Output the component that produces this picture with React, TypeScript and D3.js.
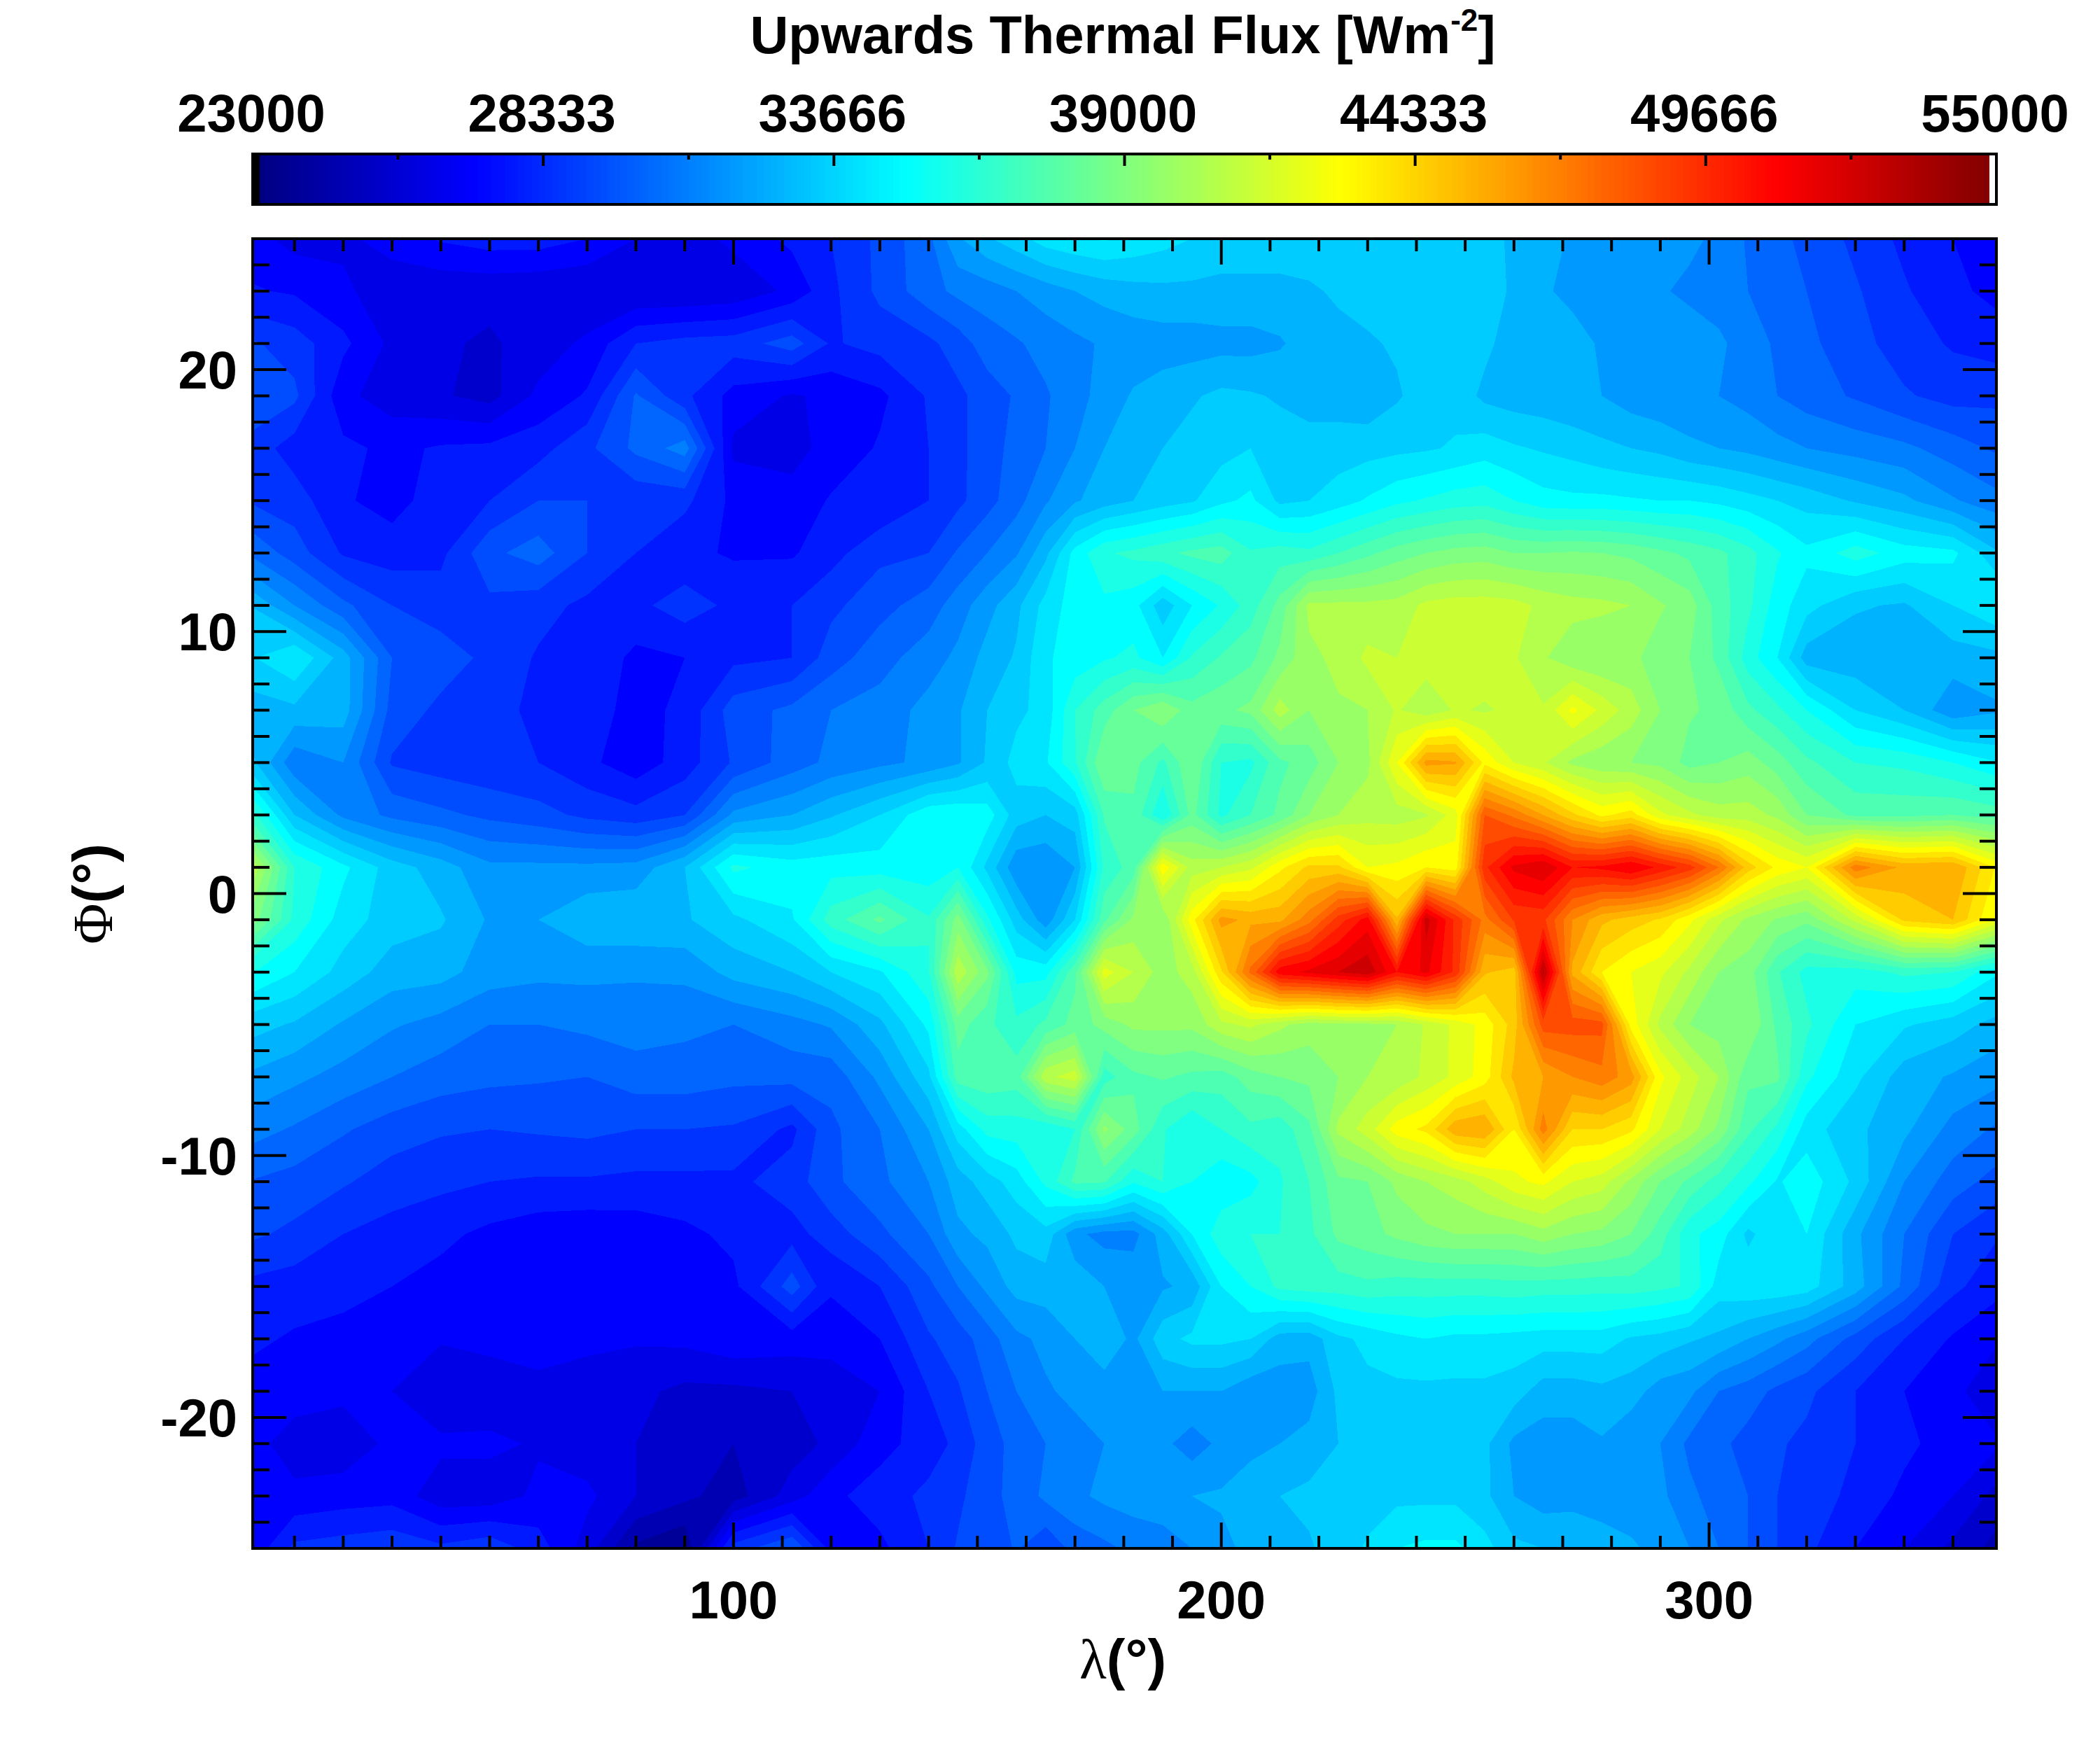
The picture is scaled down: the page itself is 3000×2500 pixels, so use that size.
import React from "react";
import * as d3 from "d3";

// longitude and latitude of the flux grid
const lons = [0,10,20,30,40,50,60,70,80,90,100,112,120,130,140,146,152,158,164,170,176,182,188,194,200,206,212,218,224,230,236,242,248,254,260,266,272,278,284,290,296,302,308,314,320,330,340,350,360];
const lats = [25,23,21,19,17,15,13,11,9,7,5,3,1,-1,-3,-5,-7,-9,-11,-13,-15,-17,-19,-21,-23,-25];

// flux in hundreds of W/m2, one row per latitude
const flux = [
  [274,267,268,274,279,282,282,278,270,266,272,280,286,296,308,325,333,339,346,349,351,348,345,342,338,338,338,338,338,338,338,338,337,336,333,329,325,323,322,322,320,316,309,304,300,292,284,278,272],
  [279,277,272,264,264,264,263,262,262,262,264,272,284,296,307,312,314,318,322,326,329,331,332,332,332,332,332,333,335,337,338,338,338,337,333,327,324,322,319,319,316,313,310,306,302,295,287,280,275],
  [296,290,280,268,263,261,265,272,286,289,290,298,285,289,292,298,306,309,313,316,319,321,322,322,323,323,325,330,332,333,335,339,339,336,330,330,329,325,324,324,323,320,313,309,304,297,290,285,282],
  [300,296,272,266,263,259,272,279,303,288,275,269,272,276,287,292,298,303,309,315,321,327,330,333,336,335,333,333,330,328,333,338,339,332,330,329,327,326,322,320,319,318,315,310,306,301,295,291,292],
  [292,282,280,276,279,280,283,292,304,314,268,268,272,279,286,292,298,305,310,318,326,330,334,337,339,342,338,335,338,339,340,341,343,346,343,341,339,336,334,332,328,326,324,321,318,315,312,306,300],
  [294,290,279,275,282,286,294,294,288,288,276,272,279,279,286,292,299,307,317,325,330,334,338,341,348,352,340,342,346,351,356,359,362,363,358,353,352,352,351,350,350,348,345,342,339,333,328,319,312],
  [310,298,285,282,284,300,306,294,286,280,277,277,283,292,294,303,310,317,332,353,365,368,372,376,378,367,370,368,374,380,386,390,393,394,390,390,391,390,388,384,380,376,369,359,352,362,354,352,334],
  [335,318,304,294,290,292,289,284,284,290,284,286,292,299,306,314,323,332,345,354,356,353,337,350,359,370,385,408,408,408,409,416,418,418,417,412,409,408,406,399,394,378,368,354,345,335,333,342,350],
  [340,350,330,302,298,292,285,284,276,278,284,286,298,307,314,320,329,335,349,353,357,360,350,367,375,380,392,404,408,416,414,418,420,419,415,407,400,398,400,394,390,380,362,350,330,329,329,330,332],
  [330,332,330,299,292,289,284,282,275,280,298,304,310,313,321,325,334,340,345,366,378,390,398,385,388,392,410,398,405,406,415,408,415,413,416,415,432,420,410,398,391,388,376,368,358,342,334,320,325],
  [340,312,318,293,290,288,286,280,273,282,295,306,312,316,320,325,335,345,349,365,390,385,372,390,366,364,380,386,398,404,430,465,463,436,422,415,404,400,398,396,387,390,394,386,376,366,364,358,350],
  [375,334,316,308,304,300,297,292,289,294,320,326,333,342,356,357,354,338,334,338,375,380,358,385,364,374,384,398,406,411,410,413,426,486,476,462,448,436,442,424,416,410,410,404,390,380,380,382,378],
  [420,366,352,338,330,320,320,320,321,334,360,354,355,354,353,358,340,320,319,326,368,378,436,410,414,420,436,448,448,430,432,438,434,500,520,526,510,512,518,508,498,478,450,436,430,475,460,462,434],
  [400,364,346,338,335,325,326,332,333,333,340,349,370,384,367,394,360,338,321,342,380,400,398,435,465,460,460,475,498,514,455,530,500,475,495,496,470,456,450,445,432,416,404,397,392,416,448,454,426],
  [360,350,339,330,329,322,320,320,319,320,329,334,342,349,365,412,392,355,355,380,426,414,402,410,445,480,515,520,526,532,510,520,500,455,450,536,460,438,430,424,412,398,394,375,363,362,368,366,350],
  [338,333,325,319,315,310,310,312,314,312,310,315,319,332,352,386,376,368,376,385,393,400,400,400,412,416,408,402,404,404,406,415,424,433,450,490,490,489,435,412,398,394,398,380,368,350,343,338,330],
  [325,320,315,310,306,304,303,302,306,306,304,305,305,320,340,378,380,378,412,418,370,380,383,380,378,386,390,392,398,406,408,416,424,434,456,462,470,475,466,432,418,406,384,384,360,344,330,325,320],
  [314,309,303,298,295,294,295,296,294,294,293,284,300,310,326,346,361,362,359,366,400,386,367,358,366,372,369,380,408,418,434,440,460,462,438,474,446,446,440,422,410,396,376,364,346,336,328,315,308],
  [302,299,295,290,288,286,285,285,284,284,284,290,300,308,318,330,338,346,360,376,375,359,366,358,352,355,365,374,388,390,400,406,410,418,428,432,422,418,404,390,380,370,360,349,355,340,318,306,298],
  [296,292,286,283,280,276,273,272,273,276,280,283,290,300,310,324,328,336,339,320,315,315,330,350,363,366,366,372,384,387,392,396,398,398,398,403,398,396,390,378,360,354,340,348,350,328,310,294,286],
  [284,282,280,278,275,272,272,272,272,277,276,298,279,286,300,310,320,329,330,332,326,324,325,328,350,358,368,370,370,372,370,370,370,370,371,370,370,369,370,368,365,346,348,348,346,330,308,288,280],
  [280,277,276,274,271,273,273,272,271,272,276,274,274,278,293,298,306,316,320,326,332,324,339,344,344,342,330,329,340,344,348,350,348,348,347,346,346,346,341,339,335,332,326,320,313,299,286,277,270],
  [275,274,272,270,262,264,268,266,264,260,260,262,264,270,286,293,302,310,317,320,322,324,326,326,326,320,322,322,336,340,340,340,340,340,338,330,330,332,330,322,320,310,306,300,296,286,278,272,264],
  [274,266,265,272,272,272,269,265,262,254,254,258,264,275,282,288,298,305,310,315,318,320,320,314,320,324,326,329,334,338,339,339,339,336,324,322,322,325,319,318,308,304,299,295,292,286,280,274,270],
  [276,272,274,275,265,265,272,272,262,256,250,266,276,282,288,292,300,304,312,316,320,322,323,326,327,330,334,336,336,339,340,340,340,336,326,322,323,320,319,320,312,306,302,294,290,284,276,270,258],
  [270,288,290,292,288,292,282,266,244,238,290,302,275,276,286,295,296,303,295,305,308,312,314,318,324,328,332,333,338,343,350,352,352,345,336,334,333,332,328,322,318,310,302,294,288,278,270,260,250],
];

const barLabels = ["23000", "28333", "33666", "39000", "44333", "49666", "55000"];
const xMajor = [100, 200, 300];
const yMajor = [-20, -10, 0, 10, 20];

const fluxMin = 23000;
const fluxMax = 55000;
const levelStep = 800;

const plot = { left: 361, right: 2852, top: 341, bottom: 2212 };
const bar = { top: 220, bottom: 292 };
const fontFamily = "'Liberation Sans', Arial, sans-serif";
const greekFont = "'Liberation Serif', serif";
const fontSize = 76;

// same stops as IDL's blue-red table
const jet = d3
  .scaleLinear<string>()
  .domain([0, 0.125, 0.375, 0.625, 0.875, 1])
  .range(["#000080", "#0000ff", "#00ffff", "#ffff00", "#ff0000", "#800000"]);

const xScale = d3.scaleLinear().domain([1.43, 358.9]).range([plot.left, plot.right]);
const yScale = d3.scaleLinear().domain([25, -25]).range([plot.top, plot.bottom]);

export default function App() {
  const nx = lons.length;
  const ny = lats.length;

  // pad the grid by one cell so the bands run past the frame, the clip cuts them
  const padded: number[] = [];
  for (let j = -1; j <= ny; j++) {
    const row = flux[Math.max(0, Math.min(ny - 1, j))];
    for (let i = -1; i <= nx; i++) {
      padded.push(row[Math.max(0, Math.min(nx - 1, i))] * 100);
    }
  }

  const levels = d3.range(fluxMin, fluxMax, levelStep);
  const bands = d3.contours().size([nx + 2, ny + 2]).thresholds(levels)(padded);

  // grid index to pixel, the columns are not evenly spaced
  const xIndex = d3.scaleLinear().domain(d3.range(nx)).range(lons.map((d) => xScale(d)));
  const yIndex = d3.scaleLinear().domain(d3.range(ny)).range(lats.map((d) => yScale(d)));
  const gridPath = d3.geoPath(
    d3.geoTransform({
      point(x, y) {
        this.stream.point(xIndex(x - 1.5), yIndex(y - 1.5));
      },
    })
  );

  const barScale = d3.scaleLinear().domain([fluxMin, fluxMax]).range([plot.left, plot.right]);
  const slotWidth = (plot.right - plot.left) / 256;
  const slots = d3.range(256);
  const barMajor = barLabels.map(Number);
  const barMinor = barMajor.slice(1).map((d, i) => (d + barMajor[i]) / 2);

  const xMinor = d3.range(10, 360, 10).filter((d) => !xMajor.includes(d));
  const yMinor = d3.range(-24, 25).filter((d) => !yMajor.includes(d));

  return (
    <svg width={3000} height={2500} style={{ position: "absolute", left: 0, top: 0 }} fontFamily={fontFamily}>
      <rect width={3000} height={2500} fill="#fff" />
      <defs>
        <clipPath id="plot-clip">
          <rect x={plot.left} y={plot.top} width={plot.right - plot.left} height={plot.bottom - plot.top} />
        </clipPath>
      </defs>

      {/* title */}
      <text x={1604} y={76} textAnchor="middle" fontSize={fontSize} fontWeight="bold">
        Upwards Thermal Flux [Wm<tspan dy={-32} fontSize={44}>-2</tspan><tspan dy={32}>]</tspan>
      </text>

      {/* colour bar */}
      <g shapeRendering="crispEdges">
        {slots.map((i) => (
          <rect
            key={i}
            x={plot.left + i * slotWidth}
            y={bar.top}
            width={slotWidth + 1}
            height={bar.bottom - bar.top}
            fill={i === 0 ? "#000" : i === 255 ? "#fff" : jet(i / 255)}
          />
        ))}
      </g>
      <rect x={plot.left} y={bar.top} width={plot.right - plot.left} height={bar.bottom - bar.top} fill="none" stroke="#000" strokeWidth={4} />
      {barMajor.map((d) => (
        <line key={d} x1={barScale(d)} x2={barScale(d)} y1={bar.top} y2={bar.top + 17} stroke="#000" strokeWidth={4} />
      ))}
      {barMinor.map((d) => (
        <line key={d} x1={barScale(d)} x2={barScale(d)} y1={bar.top} y2={bar.top + 8} stroke="#000" strokeWidth={4} />
      ))}
      {barLabels.map((d) => (
        <text key={d} x={barScale(+d) - 2} y={188} textAnchor="middle" fontSize={fontSize} fontWeight="bold">
          {d}
        </text>
      ))}

      {/* filled contours */}
      <g clipPath="url(#plot-clip)" shapeRendering="crispEdges">
        <rect x={plot.left} y={plot.top} width={plot.right - plot.left} height={plot.bottom - plot.top} fill={jet(0)} />
        {bands.map((band) => (
          <path key={band.value} d={gridPath(band) ?? ""} fill={jet((band.value - fluxMin) / (fluxMax - fluxMin))} />
        ))}
      </g>

      {/* ticks on all four sides */}
      <g stroke="#000" strokeWidth={4}>
        {xMinor.map((d) => (
          <g key={d}>
            <line x1={xScale(d)} x2={xScale(d)} y1={plot.top} y2={plot.top + 18} />
            <line x1={xScale(d)} x2={xScale(d)} y1={plot.bottom} y2={plot.bottom - 18} />
          </g>
        ))}
        {xMajor.map((d) => (
          <g key={d}>
            <line x1={xScale(d)} x2={xScale(d)} y1={plot.top} y2={plot.top + 37} />
            <line x1={xScale(d)} x2={xScale(d)} y1={plot.bottom} y2={plot.bottom - 37} />
          </g>
        ))}
        {yMinor.map((d) => (
          <g key={d}>
            <line x1={plot.left} x2={plot.left + 24} y1={yScale(d)} y2={yScale(d)} />
            <line x1={plot.right} x2={plot.right - 24} y1={yScale(d)} y2={yScale(d)} />
          </g>
        ))}
        {yMajor.map((d) => (
          <g key={d}>
            <line x1={plot.left} x2={plot.left + 48} y1={yScale(d)} y2={yScale(d)} />
            <line x1={plot.right} x2={plot.right - 48} y1={yScale(d)} y2={yScale(d)} />
          </g>
        ))}
      </g>
      <rect x={plot.left} y={plot.top} width={plot.right - plot.left} height={plot.bottom - plot.top} fill="none" stroke="#000" strokeWidth={4} />

      {/* tick labels */}
      {xMajor.map((d) => (
        <text key={d} x={xScale(d)} y={2312} textAnchor="middle" fontSize={fontSize} fontWeight="bold">
          {d}
        </text>
      ))}
      {yMajor.map((d) => (
        <text key={d} x={339} y={yScale(d) + 27} textAnchor="end" fontSize={fontSize} fontWeight="bold">
          {d}
        </text>
      ))}

      {/* axis titles */}
      <text x={1604} y={2398} textAnchor="middle" fontSize={fontSize + 4} fontWeight="bold">
        <tspan fontFamily={greekFont} fontWeight="normal">λ</tspan>(°)
      </text>
      <text transform="translate(160,1277) rotate(-90)" textAnchor="middle" fontSize={fontSize + 4} fontWeight="bold">
        <tspan fontFamily={greekFont} fontWeight="normal">Φ</tspan>(°)
      </text>
    </svg>
  );
}
